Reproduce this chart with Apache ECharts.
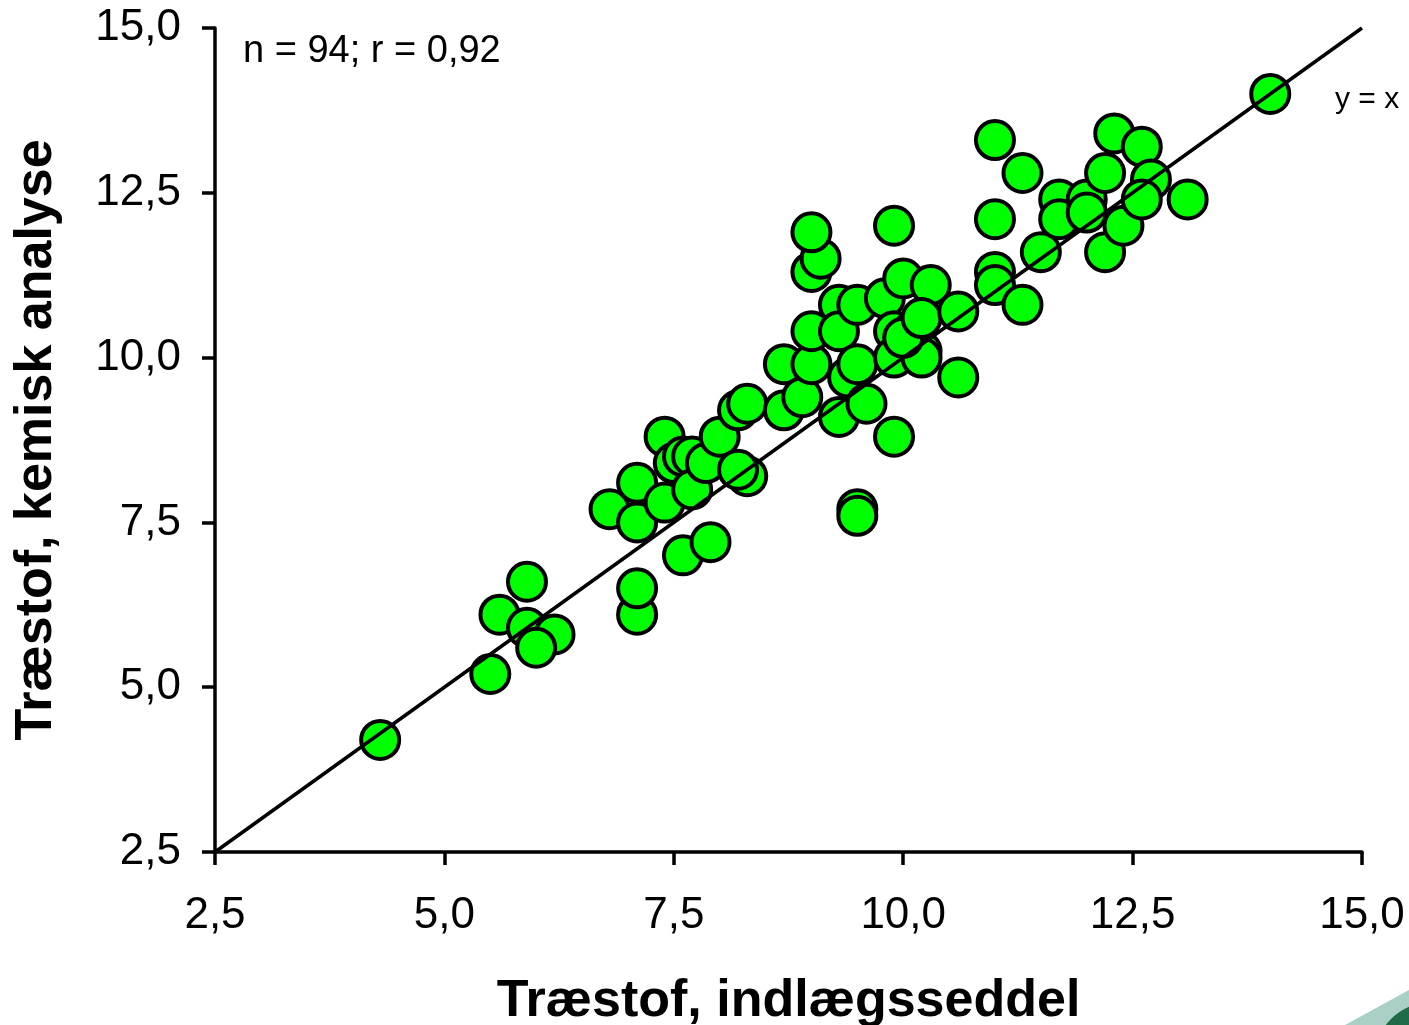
<!DOCTYPE html>
<html>
<head>
<meta charset="utf-8">
<script src="https://cdn.jsdelivr.net/npm/echarts@6/dist/echarts.min.js"></script>
<style>
  html, body { margin: 0; padding: 0; background: #fff; }
  #chart { width: 1409px; height: 1025px; }
</style>
</head>
<body>
<div id="chart"></div>
<script>
// [indlægsseddel, kemisk analyse]
const points = [
  [4.3, 4.2], [5.5, 5.2], [5.6, 6.1], [5.9, 6.6], [5.9, 5.9], [6.2, 5.8], [6.0, 5.6],
  [7.1, 6.1], [7.1, 6.5], [6.8, 7.7], [7.1, 7.5], [7.1, 8.1], [7.4, 7.8], [7.4, 8.8],
  [7.5, 8.4], [7.6, 8.5], [7.6, 7.0], [7.9, 7.2], [7.7, 8.5], [7.7, 8.0], [7.85, 8.4],
  [8.0, 8.8], [8.2, 9.2], [8.3, 9.3], [8.3, 8.2], [8.2, 8.3],
  [8.7, 9.2], [8.7, 9.9], [8.9, 9.4], [9.0, 9.9], [9.0, 10.4], [9.0, 11.3], [9.1, 11.5],
  [9.0, 11.9], [9.3, 10.8], [9.3, 10.4], [9.3, 9.1], [9.4, 9.7], [9.5, 9.9], [9.5, 10.8],
  [9.6, 9.3], [9.5, 7.7], [9.5, 7.6], [9.8, 10.9], [9.9, 12.0], [9.9, 10.4], [9.9, 10.0],
  [9.9, 8.8], [10.0, 11.2], [10.1, 10.4], [10.2, 10.1], [10.2, 10.0], [10.3, 11.1],
  [10.0, 10.3], [10.2, 10.6], [10.6, 10.7], [10.6, 9.7],
  [11.0, 12.1], [11.0, 11.3], [11.0, 11.1], [11.0, 13.3], [11.3, 12.8], [11.3, 10.8],
  [11.5, 11.6], [11.7, 12.4], [11.7, 12.1], [12.0, 12.4], [12.0, 12.2], [12.2, 11.6],
  [12.4, 12.0], [12.2, 12.8], [12.3, 13.4], [12.6, 13.2], [12.7, 12.7], [12.6, 12.4],
  [13.1, 12.4], [14.0, 14.0]
];
const identityLine = [[2.5, 2.5], [15, 15]];
const xTicks = [2.5, 5, 7.5, 10, 12.5, 15];
const yTicks = [2.5, 5, 7.5, 10, 12.5, 15];

const fmt = v => v.toFixed(1).replace('.', ',');
const font = 'Liberation Sans, Arial, sans-serif';

const chart = echarts.init(document.getElementById('chart'));
chart.setOption({
  animation: false,
  grid: { left: 215, right: 47, top: 28, bottom: 173, outerBoundsMode: 'none', containLabel: false },
  xAxis: {
    type: 'value', min: xTicks[0], max: xTicks[xTicks.length - 1], interval: 2.5,
    name: 'Træstof, indlægsseddel', nameLocation: 'middle', nameGap: 124,
    nameTextStyle: { fontFamily: font, fontWeight: 'bold', fontSize: 52, color: '#000' },
    axisLine: { lineStyle: { color: '#000', width: 3.5 } },
    axisTick: { length: 13, lineStyle: { color: '#000', width: 3.5 } },
    axisLabel: { formatter: fmt, fontFamily: font, fontSize: 44, color: '#000', margin: 42 },
    splitLine: { show: false }
  },
  yAxis: {
    type: 'value', min: yTicks[0], max: yTicks[yTicks.length - 1], interval: 2.5,
    name: 'Træstof, kemisk analyse', nameLocation: 'middle', nameGap: 152,
    nameTextStyle: { fontFamily: font, fontWeight: 'bold', fontSize: 52, color: '#000' },
    axisLine: { lineStyle: { color: '#000', width: 3.5 } },
    axisTick: { length: 13, lineStyle: { color: '#000', width: 3.5 } },
    axisLabel: { formatter: fmt, fontFamily: font, fontSize: 44, color: '#000', margin: 34 },
    splitLine: { show: false }
  },
  series: [
    {
      type: 'scatter', data: points, symbolSize: 38,
      itemStyle: { color: '#00ff00', borderColor: '#000', borderWidth: 4, opacity: 1 }
    },
    {
      type: 'line', data: identityLine, showSymbol: false, z: 5,
      lineStyle: { color: '#000', width: 3.5 },
      endLabel: {
        show: true, formatter: 'y = x', fontFamily: font, fontSize: 30, color: '#000',
        offset: [-35, 72]
      }
    }
  ],
  graphic: [
    {
      type: 'text', left: 243, top: 33,
      style: { text: 'n = 94; r = 0,92', fontFamily: font, fontSize: 38, fill: '#000' }
    },
    // afskåret logo nederst til højre
    {
      type: 'polygon', silent: true,
      shape: { points: [[1345, 1025], [1409, 990], [1409, 1025]] },
      style: { fill: '#a9cfc6' }
    },
    {
      type: 'circle', silent: true,
      shape: { cx: 1432, cy: 1060, r: 58 },
      style: { fill: '#1f6b45' }
    }
  ]
});
</script>
</body>
</html>
